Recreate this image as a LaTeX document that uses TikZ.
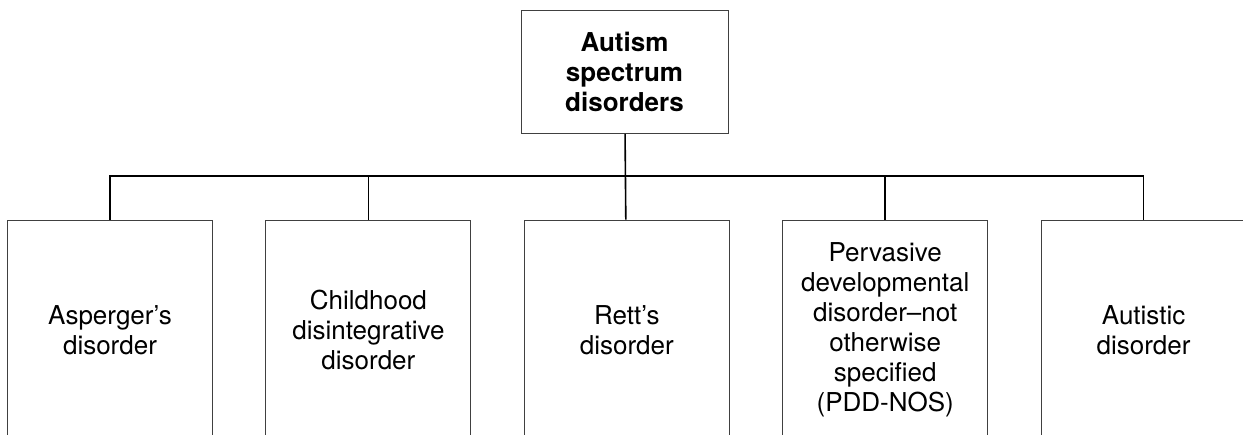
\documentclass[tikz,border=0pt]{standalone}
\usepackage{fontspec}
\setmainfont{TeX Gyre Heros}
\usetikzlibrary{positioning}

\begin{document}
\begin{tikzpicture}[x=1pt,y=1pt,
    box/.style={draw=black!75,line width=0.9pt,align=center,inner sep=0pt,
      font=\fontsize{26}{30}\selectfont},
    subtype/.style={box,minimum width=205pt,minimum height=220pt},
    link/.style={line width=1.6pt},
    node distance=52.5pt]
        \clip (0,0) rectangle (1243,435);
        \fill[white] (0,0) rectangle (1243,435);

        \node[box, minimum width=207pt, minimum height=123pt, font=\fontsize{26}{30}\selectfont\bfseries] (asd) at (624.5,363) {Autism\\spectrum\\disorders};

        \node[subtype] (asp) at (110,105) {Asperger's\\disorder};
        \node[subtype] (cdd) [right=of asp] {Childhood\\disintegrative\\disorder};
        \node[subtype] (rett) [right=of cdd] {Rett's\\disorder};
        \node[subtype] (pdd) [right=of rett] {Pervasive\\developmental\\disorder--not\\otherwise\\specified\\(PDD-NOS)};
        \node[subtype] (aut) [right=of pdd] {Autistic\\disorder};

        \coordinate (bus) at (624.5,259);
        \draw[link] (asd) -- (rett);
        \draw[link] (asp) |- (bus) -| (aut);
        \foreach \b in {cdd,pdd}
            \draw[link] (\b) -- (\b |- bus);
      \end{tikzpicture}
\end{document}
